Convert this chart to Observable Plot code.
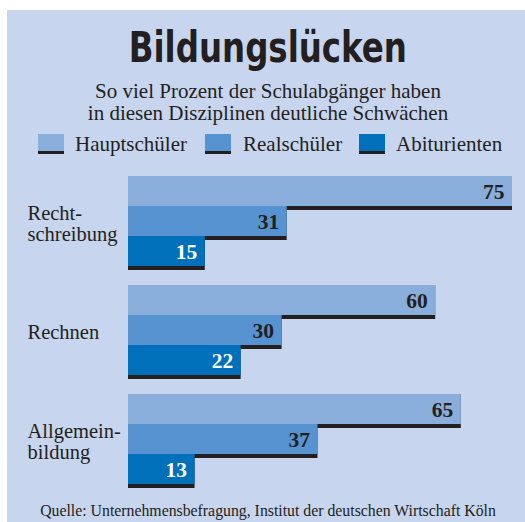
<!DOCTYPE html>
<html>
<head>
<meta charset="utf-8">
<script src="https://cdn.jsdelivr.net/npm/d3@7"></script>
<script src="https://cdn.jsdelivr.net/npm/@observablehq/plot@0.6"></script>
<style>
  html, body { margin: 0; padding: 0; background: #ffffff; }
  #wrap { position: relative; width: 525px; height: 522px; overflow: hidden; background: #ffffff; }
  #panel { position: absolute; left: 7px; top: 10px; width: 518px; height: 512px; background: #c7d5ee; }
  .abs { position: absolute; white-space: nowrap; color: #231f20; }
  .serif { font-family: "Liberation Serif", "Times New Roman", serif; }
  #title { left: 0; width: 536px; text-align: center; top: 26px; font-family: "Liberation Sans Narrow", "DejaVu Sans Condensed", "Liberation Sans", sans-serif; font-weight: bold; font-size: 43px; line-height: 43px; }
  #title span { display: inline-block; transform-origin: center; }
  #subtitle { left: 0; width: 536px; text-align: center; top: 80px; font-size: 21px; line-height: 22px; }
  .sw { position: absolute; width: 26px; height: 17px; border-bottom: 3px solid #231f20; top: 134px; }
  .lt { font-size: 21px; line-height: 21px; top: 134px; }
  #caption { left: 0; width: 536px; text-align: center; top: 503px; font-size: 15.8px; line-height: 16px; }
  #chart { position: absolute; left: 0; top: 165px; }
</style>
</head>
<body>
<div id="wrap">
  <div id="panel"></div>
  <div id="title" class="abs"><span id="titleText"></span></div>
  <div id="subtitle" class="abs serif"></div>
  <div id="legend"></div>
  <div id="chart"></div>
  <div id="caption" class="abs serif"></div>
</div>
<script>
const titleText = "Bildungslücken";
const subtitleLines = ["So viel Prozent der Schulabgänger haben", "in diesen Disziplinen deutliche Schwächen"];
const captionText = "Quelle: Unternehmensbefragung, Institut der deutschen Wirtschaft Köln";

const categories = ["Rechtschreibung", "Rechnen", "Allgemeinbildung"];
const categoryLabels = ["Recht-\nschreibung", "Rechnen", "Allgemein-\nbildung"];
const series = ["Hauptschüler", "Realschüler", "Abiturienten"];
const colors = ["#8aaedb", "#5693d0", "#0070bb"];
const hauptschueler = [75, 60, 65];
const realschueler = [31, 30, 37];
const abiturienten = [15, 22, 13];

const rows = [];
categories.forEach((c, i) => {
  rows.push({category: c, label: categoryLabels[i], series: series[0], value: hauptschueler[i]});
  rows.push({category: c, label: categoryLabels[i], series: series[1], value: realschueler[i]});
  rows.push({category: c, label: categoryLabels[i], series: series[2], value: abiturienten[i]});
});

// header texts
const tt = document.getElementById("titleText");
tt.textContent = titleText;
document.getElementById("subtitle").innerHTML = subtitleLines.join("<br>");
document.getElementById("caption").textContent = captionText;

// legend
const legend = document.getElementById("legend");
const swX = [38, 205, 359], ltX = [75, 243, 396];
series.forEach((s, i) => {
  const sw = document.createElement("div");
  sw.className = "sw";
  sw.style.left = swX[i] + "px";
  sw.style.background = colors[i];
  legend.appendChild(sw);
  const t = document.createElement("div");
  t.className = "abs serif lt";
  t.style.left = ltX[i] + "px";
  t.textContent = s;
  legend.appendChild(t);
});

const serifFont = '"Liberation Serif", "Times New Roman", serif';
const dark = "#231f20";

const chart = Plot.plot({
  width: 525,
  height: 335,
  marginTop: 10,
  marginBottom: 9,
  marginLeft: 128,
  marginRight: 13,
  style: {background: "transparent", fontFamily: serifFont, color: dark},
  facet: {data: rows, y: "category", label: null},
  fy: {domain: categories, paddingInner: 0.118, paddingOuter: 0, axis: null, label: null},
  y: {domain: series, paddingInner: 0, paddingOuter: 0.0645, align: 0, axis: null, label: null},
  x: {domain: [0, 75], axis: null},
  color: {domain: series, range: colors},
  marks: [
    Plot.barX(rows, {x: "value", y: "series", fill: dark, inset: 0, insetBottom: -4}),
    Plot.barX(rows, {x: "value", y: "series", fill: "series", inset: 0}),
    Plot.text(rows, {filter: d => d.series !== "Abiturienten", x: "value", y: "series", text: d => String(d.value), textAnchor: "end", dx: -8, dy: 1, fill: dark, fontWeight: "bold", fontSize: 21.5, fontFamily: serifFont}),
    Plot.text(rows, {filter: d => d.series === "Abiturienten", x: "value", y: "series", text: d => String(d.value), textAnchor: "end", dx: -8, dy: 1, fill: "white", fontWeight: "bold", fontSize: 21.5, fontFamily: serifFont}),
    Plot.text(rows, {filter: d => d.series === "Realschüler", y: "series", frameAnchor: "left", text: "label", textAnchor: "start", dx: -101, dy: 2, fill: dark, fontSize: 20.5, lineHeight: 1.03, fontFamily: serifFont})
  ]
});
document.getElementById("chart").appendChild(chart);

// fit title width
const w = tt.getBoundingClientRect().width;
const target = 278;
tt.style.transform = `scaleX(${target / w})`;
</script>
</body>
</html>
